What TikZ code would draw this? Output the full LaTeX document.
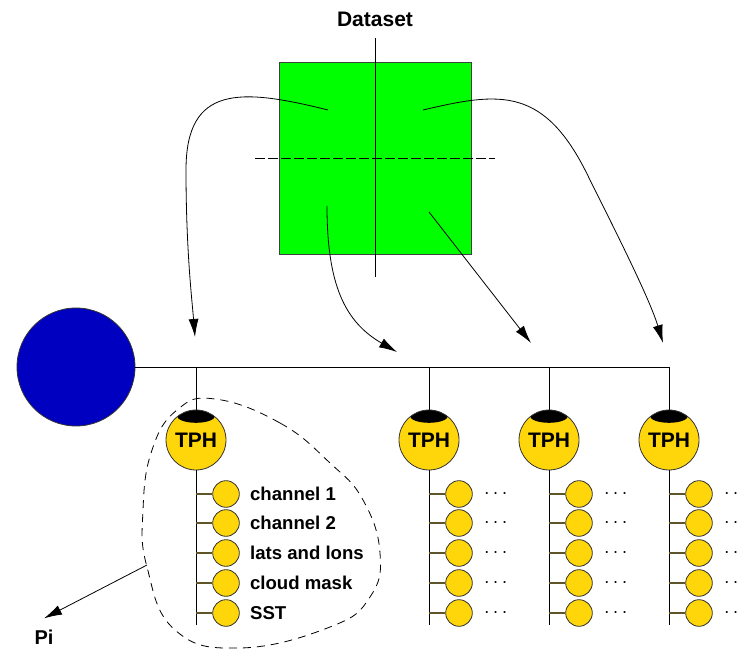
\documentclass[tikz,border=0pt]{standalone}
\usepackage{fontspec}
\setmainfont{Liberation Sans}
\usetikzlibrary{arrows.meta,positioning}
\definecolor{dsgreen}{RGB}{0,255,0}
\definecolor{dsblue}{RGB}{0,0,192}
\definecolor{tphgold}{RGB}{255,214,10}
\definecolor{stubolive}{RGB}{95,85,40}
\begin{document}
\begin{tikzpicture}[x=0.5pt, y=-0.5pt, >={Latex[length=9pt,width=5pt]},
    tph/.style={circle, draw=black!80, fill=tphgold, minimum size=30pt, inner sep=0pt,
        font=\fontsize{10.5}{12}\selectfont\bfseries,
        path picture={\fill[black] ([yshift=-3pt]path picture bounding box.north) ellipse [x radius=9.5pt, y radius=3.4pt];}},
    leaf/.style={circle, draw=black!80, fill=tphgold, minimum size=13.3pt, inner sep=0pt},
    lbl/.style={inner sep=0pt, font=\fontsize{9.3}{11}\selectfont\bfseries},
    stub/.style={stubolive, line width=0.6pt}]
\useasboundingbox (0,0) rectangle (738,651);
\node[font=\fontsize{10.5}{12}\selectfont\bfseries] (title) at (375,19) {Dataset};
\node[draw=black!75, fill=dsgreen, minimum size=96pt, inner sep=0pt] (ds) at (375,158) {};
\draw (375,38) -- (375,277);
\draw[dash pattern=on 5pt off 1.5pt] (255,158) -- (495,158);
% sources in the dataset square and the points they feed
\coordinate (q1) at (328,110);
\coordinate (q2) at (423,110);
\coordinate (q3) at (327,206);
\coordinate (q4) at (429,212);
\coordinate (a1) at (195,337);
\coordinate (a2) at (663,343);
\coordinate (a3) at (397,352);
\coordinate (a4) at (531,343);
\draw[->] (q1) .. controls (240,88) and (186,85) .. (186,170) .. controls (186,250) and (192,300) .. (a1);
\draw[->] (q2) .. controls (500,92) and (545,85) .. (590,180) .. controls (620,240) and (650,300) .. (a2);
\draw[->] (q3) .. controls (327,285) and (345,322) .. (a3);
\draw[->] (q4) -- (a4);

% master node and bus
\node[circle, draw=black!80, fill=dsblue, minimum size=59pt, inner sep=0pt] (master) at (76,367) {};
\coordinate (busend) at (669,367);
\draw (master) -- (busend);

% TPH columns with their leaves
\foreach \x [count=\i] in {196,429,549,669} {
    \node[tph] (t\i) at (\x,440) {TPH};
    \draw (\x,367) -- (t\i);
    \draw (t\i) -- (\x,625);
    \foreach \y [count=\j] in {494,523,553,583,613} {
        \node[leaf] (c\i-\j) at (\x+30,\y) {};
        \draw[stub] (\x,\y) -- (c\i-\j);
    }
}
\foreach \t [count=\j] in {channel 1, channel 2, lats and lons, cloud mask, SST}
    \node[lbl, right=5pt of c1-\j] (l\j) {\t};
\foreach \i in {2,3,4}
    \foreach \j in {1,...,5}
        \node[inner sep=0pt, right=5.5pt of c\i-\j] (d\i-\j) {$\cdots$};

% group of the first TPH
\draw[dash pattern=on 4pt off 3pt] plot[smooth cycle, tension=0.75] coordinates
    {(215,399) (280,423) (330,463) (363,500) (380,553) (370,597) (330,627) (240,648)
     (175,630) (147,567) (143,510) (152,450) (177,410)};
\coordinate (pe) at (147,565);
\node[font=\fontsize{10}{12}\selectfont\bfseries, inner sep=0pt] (pi) at (44,637) {Pi};
\draw[->] (pe) -- ([yshift=5.5pt]pi.north);
\end{tikzpicture}
\end{document}
